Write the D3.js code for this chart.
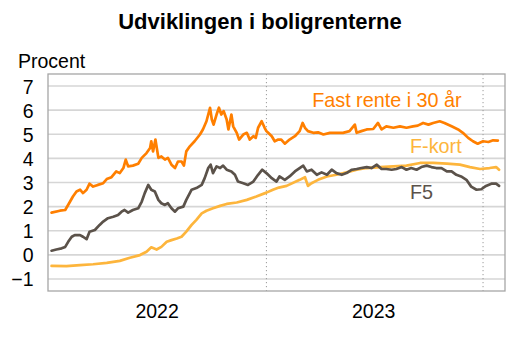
<!DOCTYPE html>
<html><head><meta charset="utf-8">
<script src="https://cdn.jsdelivr.net/npm/d3@7"></script>
<style>
html,body{margin:0;padding:0;background:#fff;}
svg{display:block;font-family:Arial,"Liberation Sans",sans-serif;}
</style></head>
<body>
<svg id="chart" width="521" height="339"></svg>
<script>
const title = "Udviklingen i boligrenterne";
const yLabel = "Procent";
const yTicks = [-1,0,1,2,3,4,5,6,7];
const yearLabels = ["2022","2023"];
const yearBoundaries = ["2023-01-01","2024-01-01"];
const seriesNames = ["Fast rente i 30 år","F-kort","F5"];

const fastRente = [
["2022-01-04",1.75],["2022-01-18",1.83],["2022-01-27",1.86],["2022-02-04",2.2],["2022-02-09",2.42],
["2022-02-15",2.63],["2022-02-21",2.7],["2022-02-26",2.56],["2022-03-04",2.7],["2022-03-09",2.95],
["2022-03-15",2.83],["2022-03-23",2.9],["2022-04-01",2.97],["2022-04-07",3.14],["2022-04-15",3.22],
["2022-04-23",3.46],["2022-04-29",3.39],["2022-05-05",3.6],["2022-05-09",3.95],["2022-05-13",3.67],
["2022-05-21",3.7],["2022-05-30",3.78],["2022-06-05",4.02],["2022-06-13",4.22],["2022-06-19",4.43],
["2022-06-21",4.71],["2022-06-24",4.29],["2022-06-28",4.78],["2022-07-03",4.02],["2022-07-08",4.08],
["2022-07-14",3.95],["2022-07-19",4.02],["2022-07-25",3.74],["2022-07-31",3.6],["2022-08-05",3.87],
["2022-08-11",3.87],["2022-08-15",3.7],["2022-08-19",4.29],["2022-08-25",4.5],["2022-09-02",4.71],
["2022-09-11",4.99],["2022-09-16",5.2],["2022-09-22",5.54],["2022-09-28",6.1],["2022-10-01",5.61],
["2022-10-04",5.4],["2022-10-09",5.82],["2022-10-13",6.1],["2022-10-17",5.82],["2022-10-21",5.96],
["2022-10-26",5.61],["2022-10-29",5.2],["2022-11-03",5.82],["2022-11-06",5.33],["2022-11-12",5.06],
["2022-11-16",4.78],["2022-11-23",4.99],["2022-11-29",5.06],["2022-12-04",4.78],["2022-12-10",4.92],
["2022-12-14",4.85],["2022-12-18",5.27],["2022-12-24",5.54],["2022-12-29",5.27],["2023-01-01",5.13],
["2023-01-04",5.06],["2023-01-10",4.92],["2023-01-15",4.71],["2023-01-21",4.78],["2023-01-26",4.78],
["2023-02-01",4.61],["2023-02-09",4.78],["2023-02-18",4.92],["2023-02-26",5.13],["2023-03-03",5.47],
["2023-03-07",5.27],["2023-03-12",5.13],["2023-03-21",5.06],["2023-03-29",5.08],["2023-04-07",4.99],
["2023-04-18",5.06],["2023-04-29",5.06],["2023-05-10",5.06],["2023-05-21",5.13],["2023-05-30",5.4],
["2023-06-02",5.06],["2023-06-10",5.13],["2023-06-19",5.2],["2023-06-30",5.22],["2023-07-08",5.47],
["2023-07-14",5.2],["2023-07-22",5.33],["2023-08-03",5.27],["2023-08-14",5.33],["2023-08-25",5.27],
["2023-09-05",5.33],["2023-09-13",5.36],["2023-09-22",5.47],["2023-10-01",5.4],["2023-10-09",5.47],
["2023-10-20",5.54],["2023-10-28",5.47],["2023-11-09",5.33],["2023-11-20",5.2],["2023-11-28",5.06],
["2023-12-07",4.85],["2023-12-15",4.71],["2023-12-23",4.61],["2024-01-01",4.71],["2024-01-10",4.68],
["2024-01-18",4.75],["2024-01-26",4.74]
];

const f5 = [
["2022-01-04",0.17],["2022-01-12",0.22],["2022-01-21",0.27],["2022-01-27",0.33],["2022-02-01",0.54],
["2022-02-07",0.75],["2022-02-12",0.82],["2022-02-21",0.82],["2022-02-26",0.75],["2022-03-04",0.65],
["2022-03-09",0.96],["2022-03-18",1.03],["2022-03-26",1.24],["2022-04-01",1.38],["2022-04-09",1.52],
["2022-04-18",1.58],["2022-04-26",1.65],["2022-05-02",1.79],["2022-05-07",1.86],["2022-05-13",1.75],
["2022-05-21",1.86],["2022-05-30",1.93],["2022-06-05",2.21],["2022-06-10",2.56],["2022-06-16",2.9],
["2022-06-21",2.7],["2022-06-27",2.63],["2022-07-03",2.28],["2022-07-08",2.14],["2022-07-14",2.07],
["2022-07-19",2.14],["2022-07-25",1.93],["2022-07-31",1.79],["2022-08-05",1.93],["2022-08-14",2.0],
["2022-08-19",2.28],["2022-08-28",2.7],["2022-09-05",2.77],["2022-09-14",2.9],["2022-09-19",3.18],
["2022-09-25",3.6],["2022-09-29",3.74],["2022-10-03",3.39],["2022-10-09",3.67],["2022-10-15",3.6],
["2022-10-20",3.7],["2022-10-26",3.53],["2022-11-03",3.46],["2022-11-09",3.32],["2022-11-14",3.04],
["2022-11-23",2.97],["2022-12-01",2.9],["2022-12-10",3.04],["2022-12-18",3.32],["2022-12-25",3.53],
["2023-01-01",3.39],["2023-01-10",3.18],["2023-01-18",3.04],["2023-01-23",3.25],["2023-02-01",3.11],
["2023-02-09",3.25],["2023-02-18",3.46],["2023-02-26",3.6],["2023-03-04",3.7],["2023-03-10",3.46],
["2023-03-18",3.53],["2023-03-27",3.32],["2023-04-04",3.42],["2023-04-13",3.32],["2023-04-21",3.53],
["2023-04-29",3.39],["2023-05-08",3.32],["2023-05-16",3.39],["2023-05-25",3.53],["2023-06-02",3.56],
["2023-06-10",3.6],["2023-06-19",3.64],["2023-06-27",3.6],["2023-07-06",3.74],["2023-07-14",3.56],
["2023-07-22",3.56],["2023-07-31",3.53],["2023-08-08",3.56],["2023-08-17",3.64],["2023-08-25",3.53],
["2023-09-02",3.6],["2023-09-11",3.53],["2023-09-19",3.64],["2023-09-28",3.7],["2023-10-06",3.64],
["2023-10-14",3.6],["2023-10-23",3.6],["2023-11-01",3.46],["2023-11-09",3.46],["2023-11-17",3.32],
["2023-11-25",3.25],["2023-12-04",3.11],["2023-12-12",2.83],["2023-12-21",2.7],["2023-12-29",2.72],
["2024-01-06",2.86],["2024-01-15",2.95],["2024-01-23",2.95],["2024-01-28",2.86]
];

const fKort = [
["2022-01-04",-0.46],["2022-01-29",-0.47],["2022-02-21",-0.43],["2022-03-15",-0.39],["2022-04-07",-0.33],
["2022-04-29",-0.25],["2022-05-16",-0.12],["2022-06-02",-0.01],["2022-06-13",0.13],["2022-06-21",0.31],
["2022-06-30",0.22],["2022-07-08",0.33],["2022-07-17",0.54],["2022-07-25",0.61],["2022-08-03",0.68],
["2022-08-11",0.75],["2022-08-19",0.96],["2022-08-28",1.24],["2022-09-05",1.45],["2022-09-14",1.72],
["2022-09-22",1.83],["2022-10-03",1.93],["2022-10-15",2.03],["2022-10-26",2.11],["2022-11-12",2.17],
["2022-11-29",2.28],["2022-12-15",2.42],["2023-01-01",2.58],["2023-01-12",2.7],["2023-01-22",2.79],
["2023-02-04",2.86],["2023-02-26",3.11],["2023-03-07",3.22],["2023-03-12",2.86],["2023-03-18",2.97],
["2023-03-29",3.11],["2023-04-13",3.25],["2023-04-29",3.32],["2023-05-16",3.42],["2023-06-02",3.53],
["2023-06-19",3.6],["2023-07-11",3.64],["2023-08-03",3.67],["2023-08-25",3.7],["2023-09-17",3.81],
["2023-10-09",3.81],["2023-11-01",3.78],["2023-11-23",3.74],["2023-12-10",3.64],["2023-12-27",3.56],
["2024-01-12",3.6],["2024-01-23",3.64],["2024-01-28",3.53]
];

const colors = {fast:"#ff7f00", kort:"#fdb53c", f5:"#5b524a"};

const svg = d3.select("#chart");
const parse = d3.timeParse("%Y-%m-%d");
const plot = {left:48, right:505, top:74, bottom:291};

const x = d3.scaleTime()
  .domain([parse("2021-12-29"), parse("2024-02-07")])
  .range([plot.left, plot.right]);
const y = d3.scaleLinear().domain([-1.5, 7.5]).range([plot.bottom, plot.top]);

// title
svg.append("text").attr("x", 260).attr("y", 29).attr("text-anchor","middle")
  .attr("font-weight","bold").attr("font-size", 22).attr("fill","#000").text(title);
svg.append("text").attr("x", 18).attr("y", 68).attr("font-size", 19.5).attr("fill","#000").text(yLabel);

// gridlines
svg.append("g").selectAll("line").data(yTicks).join("line")
  .attr("x1", plot.left).attr("x2", plot.right)
  .attr("y1", d => y(d)).attr("y2", d => y(d))
  .attr("stroke","#d6d6d6").attr("stroke-width",1.6);

// y axis labels via axis
const yAxis = d3.axisLeft(y).tickValues(yTicks).tickSize(0).tickPadding(0).tickFormat(d3.format("d"));
const yg = svg.append("g").attr("transform", `translate(${33.5},0)`).call(yAxis);
yg.select(".domain").remove();
yg.selectAll("text").attr("font-size", 19.5).attr("font-family", "Arial, 'Liberation Sans', sans-serif").attr("fill","#000").attr("dy","0.36em");

// dotted year boundaries
svg.append("g").selectAll("line").data(yearBoundaries).join("line")
  .attr("x1", d => x(parse(d))).attr("x2", d => x(parse(d)))
  .attr("y1", plot.top).attr("y2", plot.bottom)
  .attr("stroke","#9a9a9a").attr("stroke-width",1).attr("stroke-dasharray","1.2,2.8");

// x year labels
svg.append("g").selectAll("text").data(yearLabels).join("text")
  .attr("x", d => (x(parse(d+"-01-01")) + x(parse((+d+1)+"-01-01")))/2 - 1)
  .attr("y", 318).attr("text-anchor","middle").attr("font-size",19.5).attr("fill","#000")
  .text(d => d);

// lines
const line = d3.line().x(d => x(parse(d[0]))).y(d => y(d[1])).curve(d3.curveLinear);
const lineSeries = [[fKort, colors.kort],[f5, colors.f5],[fastRente, colors.fast]];
svg.append("g").selectAll("path").data(lineSeries).join("path")
  .attr("d", d => line(d[0])).attr("fill","none")
  .attr("stroke", d => d[1]).attr("stroke-width",2.7)
  .attr("stroke-linejoin","round").attr("stroke-linecap","round");

// border
svg.append("rect").attr("x", plot.left).attr("y", plot.top)
  .attr("width", plot.right-plot.left).attr("height", plot.bottom-plot.top)
  .attr("fill","none").attr("stroke","#a6a6a6").attr("stroke-width",1.3);

// annotations
svg.append("text").attr("x", 461.7).attr("y", 107).attr("text-anchor","end")
  .attr("font-size",19.8).attr("fill",colors.fast).text(seriesNames[0]);
svg.append("text").attr("x", 410).attr("y", 152.7)
  .attr("font-size",19.8).attr("fill",colors.kort).text(seriesNames[1]);
svg.append("text").attr("x", 410).attr("y", 199.3)
  .attr("font-size",19.8).attr("fill",colors.f5).text(seriesNames[2]);
</script>
</body></html>
